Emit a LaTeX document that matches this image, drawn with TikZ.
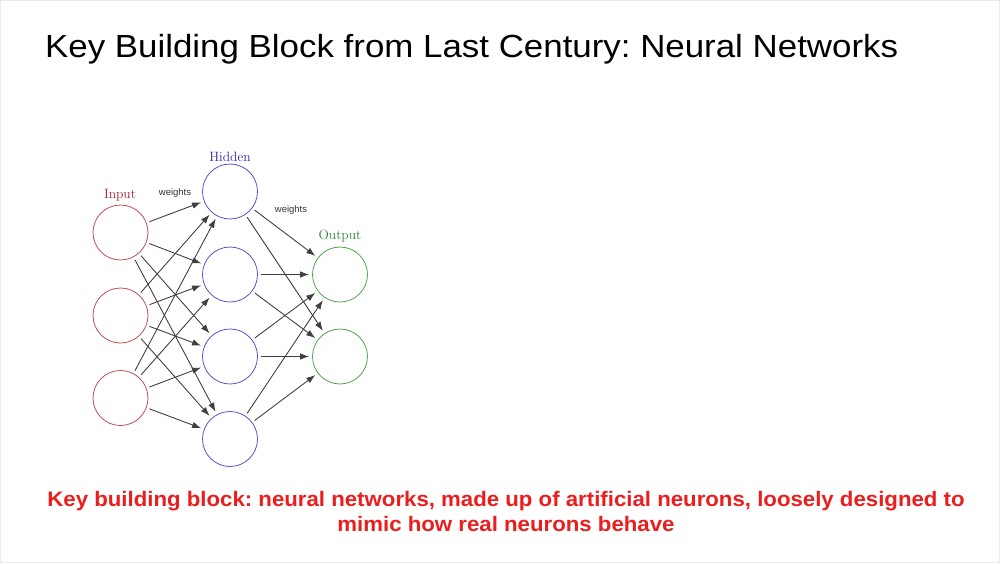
\documentclass[tikz,border=0pt]{standalone}
\usepackage{fontspec}
\setmainfont{Latin Modern Roman}
\newfontfamily\arial{Liberation Sans}
\usetikzlibrary{arrows.meta}
\frenchspacing
\definecolor{inred}{RGB}{190,80,85}
\definecolor{intext}{RGB}{170,30,50}
\definecolor{hidblue}{RGB}{90,80,200}
\definecolor{hidtext}{RGB}{50,40,170}
\definecolor{outgreen}{RGB}{80,160,80}
\definecolor{outtext}{RGB}{40,130,50}
\definecolor{slidered}{RGB}{235,30,30}
\begin{document}
\begin{tikzpicture}[x=1pt,y=-1pt,
  neuron/.style={circle,draw,line width=0.8pt,minimum size=55pt,inner sep=0pt},
  inneuron/.style={neuron,draw=inred},
  hidneuron/.style={neuron,draw=hidblue},
  outneuron/.style={neuron,draw=outgreen},
  conn/.style={-{Latex[length=9pt,width=6.5pt]},line width=0.85pt,draw=black!75,fill=black!85,shorten <=3pt,shorten >=3pt},
  layerlabel/.style={font=\fontsize{13.5}{15}\selectfont},
  wlabel/.style={font=\arial\fontsize{9.5}{11}\selectfont,text=black!80}]
\useasboundingbox (0,0) rectangle (1000,563);
\draw[black!8,line width=1pt] (0.5,0.5) rectangle (999.5,562.5);
\node[font=\arial\fontsize{32}{36}\selectfont,anchor=base west,inner sep=0pt] (title) at (45,57) {\scalebox{1.09}[1]{Key Building Block from Last Century: Neural Networks}};
% neurons
\node[inneuron] (i1) at (120.5,232.5) {};
\node[inneuron] (i2) at (120.5,315.5) {};
\node[inneuron] (i3) at (120.5,398) {};
\node[hidneuron] (h1) at (230,191.5) {};
\node[hidneuron] (h2) at (230,274.5) {};
\node[hidneuron] (h3) at (230,356.5) {};
\node[hidneuron] (h4) at (230,439) {};
\node[outneuron] (o1) at (340,274.5) {};
\node[outneuron] (o2) at (340,356.5) {};
% labels
\node[layerlabel,text=intext] (linput) at (120,195) {Input};
\node[layerlabel,text=hidtext] (lhidden) at (230,157) {Hidden};
\node[layerlabel,text=outtext] (loutput) at (340,236) {Output};
\node[wlabel] (w1) at (175,193) {weights};
\node[wlabel] (w2) at (291,210) {weights};
% connectors
\foreach \i in {1,2,3}{\foreach \h in {1,2,3,4}{\draw[conn] (i\i) -- (h\h);}}
\foreach \h in {1,2,3,4}{\foreach \o in {1,2}{\draw[conn] (h\h) -- (o\o);}}
\node[font=\arial\bfseries\fontsize{21}{25}\selectfont,text=slidered,align=center,inner sep=0pt] (caption) at (506,511) {\scalebox{1.058}[1]{Key building block: neural networks, made up of artificial neurons, loosely designed to}\\\scalebox{1.058}[1]{mimic how real neurons behave}};
\end{tikzpicture}
\end{document}
